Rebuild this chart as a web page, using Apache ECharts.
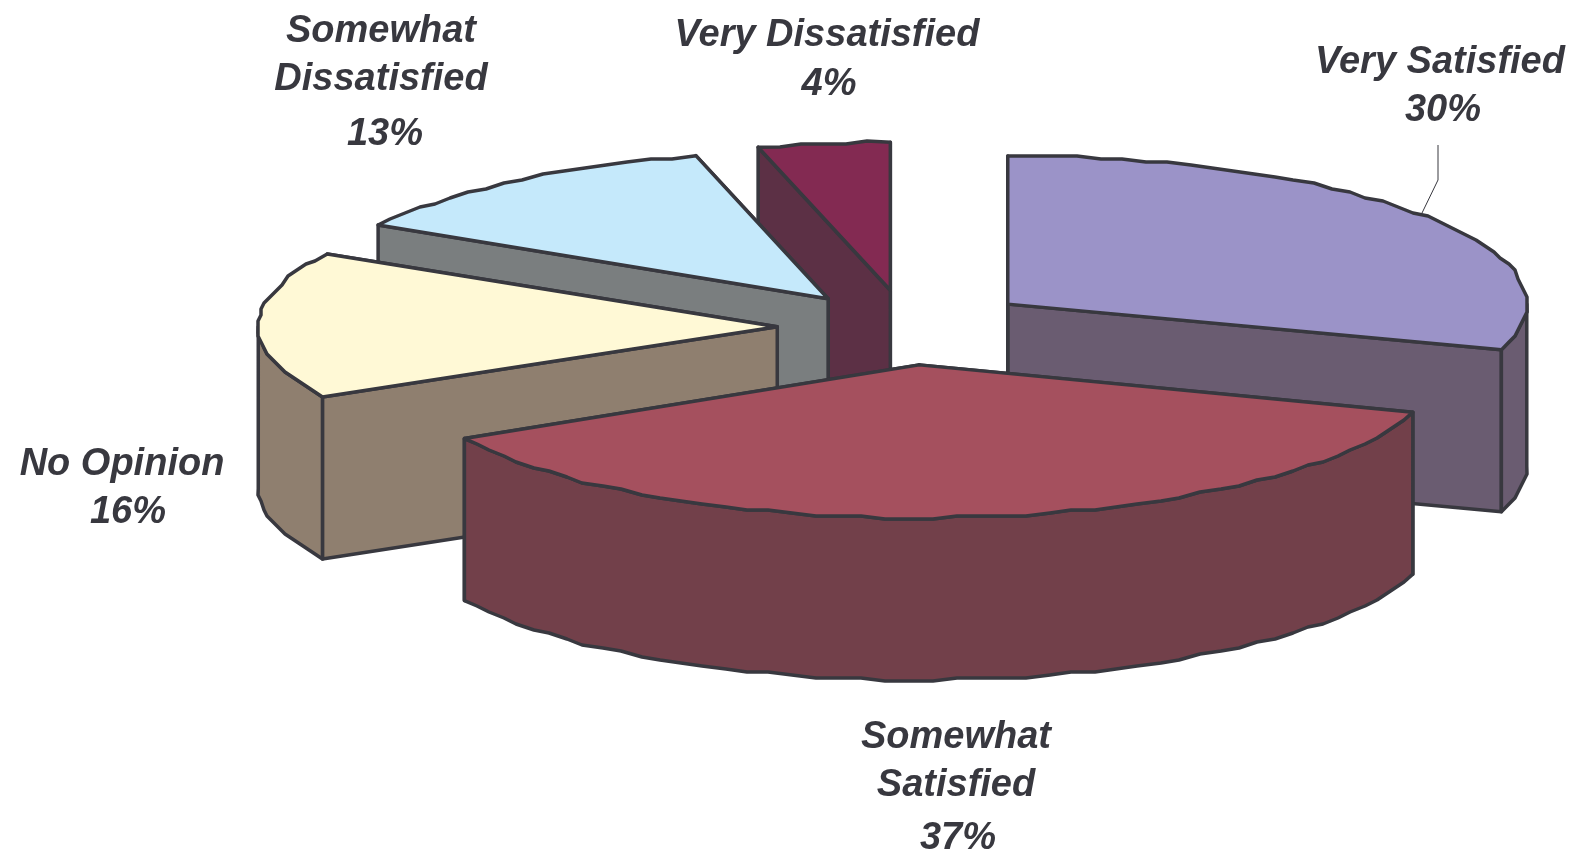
<!DOCTYPE html>
<html><head><meta charset="utf-8">
<style>html,body{margin:0;padding:0;background:#fff}#c{width:1579px;height:856px}</style>
<script src="https://cdn.jsdelivr.net/npm/echarts@6/dist/echarts.min.js"></script>
</head><body><div id="c"></div>
<script>
const categories = ['Very Satisfied','Somewhat Satisfied','No Opinion','Somewhat Dissatisfied','Very Dissatisfied'];
const labelLines = ['Very Satisfied','Somewhat\nSatisfied','No Opinion','Somewhat\nDissatisfied','Very Dissatisfied'];
const values = [30,37,16.3,12.6,4.1];
const topColors = ['#9B93C8','#A5505E','#FFF9D6','#C5E9FB','#832A52'];
const sideColors = ['#6A5C71','#72404A','#8F7F6F','#7A7E7F','#5C3045'];
const paintOrder = [4,3,2,0,1];
const nameAnchors = [[1440,63],[956,762],[122,465],[381,56],[827,36]];
const pctAnchors = [[1443,111],[958,839],[128,513],[385,135],[829,85]];
const explodeX = [0.24,0.25,0.25,0.25,0.25];
const explodeY = [0.263,0.257,0.25,0.24,0.25];
const radiiY = [148,153,146,148,148];
const leader = [[1438,145],[1438,180],[1422,213]];

const cx=907, cy=327, rx=519, depth=162;
const ink='#38383F', snap=3;
const total=values.reduce((a,b)=>a+b,0);
const starts=[]; values.reduce((s,v,i)=>{starts[i]=s;return s+v/total*Math.PI*2;},0);
const S=v=>Math.round(v/snap)*snap;

function arc(c,ry,a0,a1,dy){
  const n=Math.max(1,Math.round((a1-a0)/(2.6*Math.PI/180))),pts=[];
  for(let k=0;k<=n;k++){
    const a=a0+(a1-a0)*k/n;
    let x=c[0]+rx*Math.sin(a), y=c[1]-ry*Math.cos(a);
    if(k>0&&k<n){x=S(x);y=S(y);}
    pts.push([x,y+dy]);
  }
  return pts;
}
const poly=(points,fill)=>({type:'polygon',shape:{points},style:{fill,stroke:ink,lineWidth:3.5,lineJoin:'round'}});
const txt=(t,p)=>({type:'text',z2:50,style:{x:p[0],y:p[1],text:t,align:'center',verticalAlign:'middle',
    font:'italic bold 38px "Liberation Sans"',lineHeight:48,fill:ink}});

function renderItem(params,api){
  const i=api.value(0), v=api.value(1), ry=radiiY[i];
  const a0=starts[i], a1=a0+v/total*Math.PI*2, m=(a0+a1)/2;
  const c=[cx+explodeX[i]*rx*Math.sin(m), cy-explodeY[i]*148*Math.cos(m)];
  const top=arc(c,ry,a0,a1,0), ch=[];
  const wall=(p,fill)=>poly([c,p,[p[0],p[1]+depth],[c[0],c[1]+depth]],fill);
  ch.push(wall(top[top.length-1],sideColors[i]));
  ch.push(wall(top[0],sideColors[i]));
  const r0=Math.max(a0,Math.PI/2), r1=Math.min(a1,Math.PI*1.5);
  if(r1>r0){
    const upper=arc(c,ry,r0,r1,0), lower=arc(c,ry,r0,r1,depth);
    ch.push(poly(upper.concat(lower.reverse()),sideColors[i]));
  }
  ch.push(poly([c].concat(top),topColors[i]));
  ch.push(txt(labelLines[i],nameAnchors[i]));
  ch.push(txt(Math.round(values[i])+'%',pctAnchors[i]));
  if(i===0) ch.push({type:'polyline',z2:49,shape:{points:leader},style:{fill:'none',stroke:ink,lineWidth:1}});
  return {type:'group',children:ch};
}
const chart=echarts.init(document.getElementById('c'),null,{renderer:'canvas'});
chart.setOption({animation:false,backgroundColor:'#fff',
  series:[{type:'custom',coordinateSystem:'none',renderItem,
    data:paintOrder.map(i=>({name:categories[i],value:[i,values[i]]}))}]});
</script></body></html>
